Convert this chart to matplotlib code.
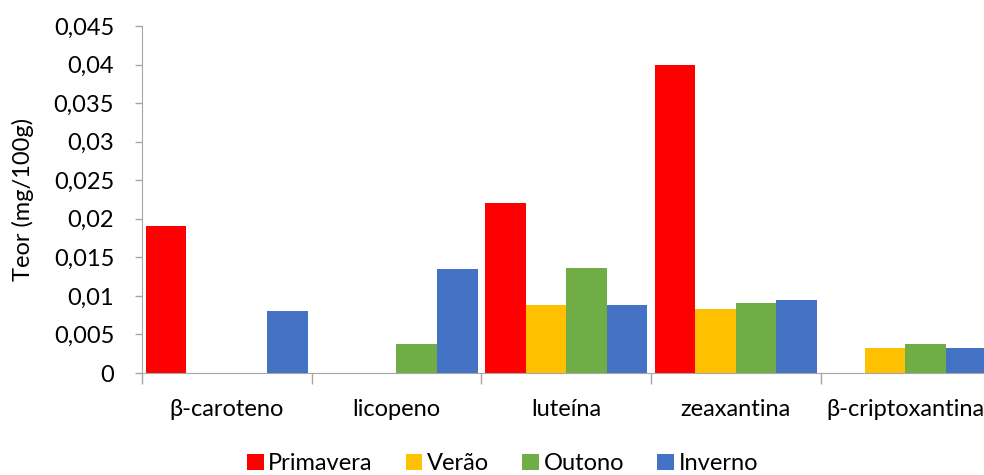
import numpy as np
import matplotlib.pyplot as plt
from matplotlib.ticker import FuncFormatter, FixedLocator

# Teor de carotenoides por estação do ano
categorias = ['β-caroteno', 'licopeno', 'luteína', 'zeaxantina', 'β-criptoxantina']
estacoes = ['Primavera', 'Verão', 'Outono', 'Inverno']
primavera = [0.019, 0.0, 0.022, 0.040, 0.0]
verao = [0.0, 0.0, 0.0088, 0.0083, 0.0032]
outono = [0.0, 0.0038, 0.0136, 0.0091, 0.0037]
inverno = [0.0080, 0.0135, 0.0088, 0.0095, 0.0032]
cores = ['#ff0000', '#ffc000', '#70ad47', '#4472c4']

plt.rcParams['font.family'] = ['Lato', 'DejaVu Sans']
fs = 17

fig = plt.figure(figsize=(9.84, 4.75), dpi=100)
ax = fig.add_axes([0.1443, 0.2147, 0.862, 0.7306])

x = np.arange(len(categorias))
largura = 0.239
series = [primavera, verao, outono, inverno]
for i, (vals, nome, cor) in enumerate(zip(series, estacoes, cores)):
    ax.bar(x + (i - 1.5) * largura, vals, largura, color=cor, label=nome)

ax.set_xlim(-0.5, len(categorias) - 0.5)
ax.set_ylim(0, 0.045)
ax.set_yticks(np.arange(0, 0.0451, 0.005))
ax.yaxis.set_major_formatter(FuncFormatter(
    lambda v, p: '0' if abs(v) < 1e-9 else ('%g' % round(v, 4)).replace('.', ',')))

ax.set_xticks(x)
ax.set_xticklabels(categorias)
ax.xaxis.set_minor_locator(FixedLocator(np.arange(-0.5, len(categorias), 1.0)))
ax.tick_params(axis='x', which='major', length=0, pad=19, labelsize=fs)
ax.tick_params(axis='x', which='minor', length=8, color='#a6a6a6', width=1)
ax.tick_params(axis='y', length=5, color='#a6a6a6', width=1, labelsize=fs, pad=15)

for s in ['top', 'right']:
    ax.spines[s].set_visible(False)
for s in ['left', 'bottom']:
    ax.spines[s].set_color('#a6a6a6')

ax.set_ylabel('Teor (mg/100g)', fontsize=fs, labelpad=14)

ax.legend(loc='center', bbox_to_anchor=(0.425, -0.262), ncol=4, frameon=False,
          fontsize=fs, handlelength=0.7, handleheight=0.7, handletextpad=0.2,
          columnspacing=1.4, borderaxespad=0, borderpad=0)

fig.savefig('out.png', dpi=100)
